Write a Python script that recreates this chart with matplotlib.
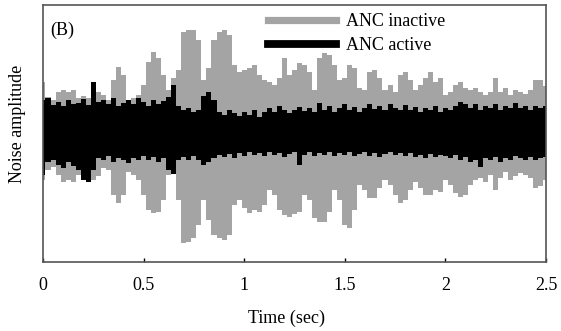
import matplotlib
matplotlib.use("Agg")
import matplotlib.pyplot as plt
from matplotlib.lines import Line2D
import numpy as np

plt.rcParams['font.family'] = ['Liberation Serif', 'DejaVu Serif']

# time axis, one reading every 0.025 s
t = np.arange(101) * 0.025

# envelope of the noise with ANC off (upper / lower)
off_top = [0.51, 0.36, 0.33, 0.41, 0.43, 0.41, 0.43, 0.35, 0.37, 0.35,
           0.48, 0.41, 0.38, 0.33, 0.53, 0.66, 0.58, 0.33, 0.35, 0.38,
           0.48, 0.71, 0.81, 0.75, 0.58, 0.43, 0.55, 0.63, 1.01, 1.03,
           1.03, 0.93, 0.53, 0.65, 0.93, 1.01, 1.03, 0.98, 0.68, 0.61,
           0.63, 0.65, 0.68, 0.58, 0.53, 0.51, 0.48, 0.55, 0.75, 0.58,
           0.63, 0.70, 0.68, 0.61, 0.43, 0.75, 0.80, 0.78, 0.68, 0.53,
           0.55, 0.68, 0.65, 0.45, 0.43, 0.61, 0.63, 0.55, 0.43, 0.48,
           0.41, 0.58, 0.61, 0.53, 0.43, 0.48, 0.55, 0.61, 0.51, 0.55,
           0.38, 0.41, 0.48, 0.51, 0.45, 0.43, 0.45, 0.41, 0.38, 0.41,
           0.55, 0.41, 0.45, 0.38, 0.43, 0.41, 0.39, 0.43, 0.53, 0.53, 0.47]
off_bot = [-0.47, -0.37, -0.34, -0.42, -0.49, -0.47, -0.49, -0.42, -0.37, -0.45,
           -0.47, -0.43, -0.35, -0.37, -0.62, -0.70, -0.62, -0.39, -0.42, -0.47,
           -0.62, -0.77, -0.80, -0.79, -0.67, -0.42, -0.39, -0.67, -1.10, -1.09,
           -1.05, -0.92, -0.67, -0.87, -1.02, -1.05, -1.07, -1.02, -0.72, -0.67,
           -0.75, -0.80, -0.77, -0.79, -0.72, -0.57, -0.62, -0.77, -0.82, -0.84,
           -0.81, -0.79, -0.62, -0.67, -0.85, -0.89, -0.89, -0.79, -0.57, -0.67,
           -0.92, -0.95, -0.77, -0.52, -0.57, -0.65, -0.65, -0.55, -0.47, -0.52,
           -0.62, -0.70, -0.67, -0.57, -0.49, -0.55, -0.62, -0.62, -0.57, -0.59,
           -0.47, -0.52, -0.60, -0.64, -0.62, -0.52, -0.47, -0.45, -0.49, -0.42,
           -0.57, -0.45, -0.39, -0.47, -0.43, -0.40, -0.42, -0.45, -0.55, -0.53, -0.47]

# envelope with ANC on
on_top = [0.33, 0.35, 0.28, 0.31, 0.27, 0.33, 0.29, 0.30, 0.34, 0.28,
          0.51, 0.31, 0.33, 0.29, 0.35, 0.27, 0.30, 0.33, 0.29, 0.35,
          0.31, 0.27, 0.33, 0.29, 0.32, 0.36, 0.48, 0.27, 0.23, 0.25,
          0.21, 0.23, 0.37, 0.41, 0.33, 0.21, 0.18, 0.23, 0.20, 0.17,
          0.21, 0.18, 0.23, 0.16, 0.21, 0.25, 0.21, 0.27, 0.23, 0.20,
          0.23, 0.26, 0.22, 0.25, 0.21, 0.30, 0.23, 0.27, 0.21, 0.25,
          0.29, 0.23, 0.26, 0.21, 0.25, 0.29, 0.24, 0.27, 0.23, 0.29,
          0.25, 0.23, 0.28, 0.23, 0.26, 0.21, 0.25, 0.23, 0.27, 0.21,
          0.25, 0.23, 0.27, 0.31, 0.29, 0.25, 0.29, 0.23, 0.27, 0.25,
          0.29, 0.23, 0.27, 0.25, 0.30, 0.25, 0.27, 0.23, 0.27, 0.25, 0.27]
on_bot = [-0.42, -0.29, -0.27, -0.32, -0.35, -0.29, -0.33, -0.37, -0.47, -0.49,
          -0.37, -0.25, -0.27, -0.23, -0.29, -0.25, -0.27, -0.30, -0.25, -0.27,
          -0.23, -0.27, -0.24, -0.29, -0.25, -0.37, -0.41, -0.27, -0.24, -0.27,
          -0.23, -0.27, -0.32, -0.29, -0.25, -0.22, -0.24, -0.21, -0.25, -0.20,
          -0.23, -0.19, -0.22, -0.20, -0.23, -0.19, -0.22, -0.20, -0.24, -0.21,
          -0.19, -0.32, -0.22, -0.19, -0.23, -0.20, -0.22, -0.19, -0.23, -0.20,
          -0.22, -0.19, -0.23, -0.21, -0.19, -0.23, -0.20, -0.24, -0.21, -0.19,
          -0.22, -0.20, -0.23, -0.20, -0.24, -0.22, -0.25, -0.21, -0.24, -0.22,
          -0.23, -0.25, -0.22, -0.27, -0.24, -0.29, -0.27, -0.34, -0.25, -0.27,
          -0.24, -0.29, -0.25, -0.27, -0.23, -0.25, -0.27, -0.24, -0.27, -0.25, -0.24]

gray = '#a4a4a4'

fig = plt.figure(figsize=(5.61, 3.31), dpi=100)
ax = fig.add_axes([0.0766, 0.2085, 0.8966, 0.7765])

ax.fill_between(t, off_bot, off_top, step='mid', color=gray, linewidth=0)
ax.fill_between(t, on_bot, on_top, step='mid', color='black', linewidth=0)

ax.set_xlim(0, 2.5)
ax.set_ylim(-1.29, 1.28)
ax.set_xticks([0, 0.5, 1, 1.5, 2, 2.5])
ax.set_xticklabels(['0', '0.5', '1', '1.5', '2', '2.5'])
ax.set_yticks([])
ax.tick_params(axis='x', direction='in', length=3, width=1, labelsize=13, pad=11)
for s in ax.spines.values():
    s.set_color('#555555')
    s.set_linewidth(1.2)

ax.set_xlabel('Time (sec)', fontsize=13)
ax.xaxis.label.set_va('center')
ax.xaxis.set_label_coords(0.485, -0.218)
ax.set_ylabel('Noise amplitude', fontsize=13)
ax.yaxis.label.set_va('center')
ax.yaxis.set_label_coords(-0.05, 0.537)

ax.text(0.014, 0.903, '(B)', transform=ax.transAxes, fontsize=13, va='center', ha='left')

handles = [Line2D([], [], color=gray, lw=5.2), Line2D([], [], color='black', lw=5.6)]
ax.legend(handles, ['ANC inactive', 'ANC active'], loc='upper left',
          bbox_to_anchor=(0.447, 0.968), frameon=False, fontsize=13,
          handlelength=3.8, handletextpad=0.55, labelspacing=0.38,
          borderpad=0, borderaxespad=0)

fig.savefig('out.png', dpi=100)
